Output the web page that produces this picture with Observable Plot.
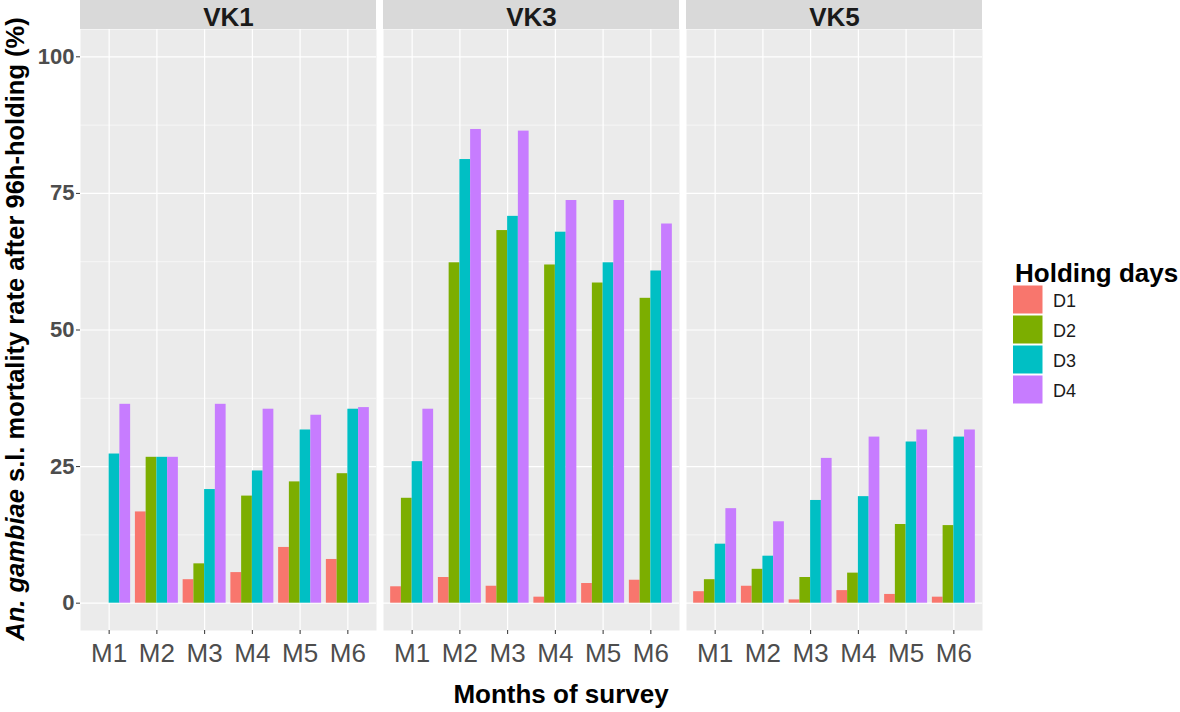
<!DOCTYPE html>
<html>
<head>
<meta charset="utf-8">
<script src="https://cdn.jsdelivr.net/npm/d3@7"></script>
<script src="https://cdn.jsdelivr.net/npm/@observablehq/plot@0.6"></script>
<style>
  body { margin: 0; background: #ffffff; }
  #chart { position: relative; width: 1180px; height: 712px; }
  svg { font-family: "Liberation Sans", Arial, sans-serif; }
</style>
</head>
<body>
<div id="chart"></div>
<script>
// ---- data ----
const sites = ["VK1", "VK3", "VK5"];
const months = ["M1", "M2", "M3", "M4", "M5", "M6"];
const days = ["D1", "D2", "D3", "D4"];
const dayColors = ["#F8766D", "#7CAE00", "#00BFC4", "#C77CFF"];
const yTicks = [0, 25, 50, 75, 100];
const yMinor = [12.5, 37.5, 62.5, 87.5];

// mortality (%) per holding day, months M1..M6
const vk1 = [
  [0, 16.7, 4.3, 5.6, 10.2, 8.0],      // D1
  [0, 26.7, 7.2, 19.6, 22.2, 23.7],    // D2
  [27.3, 26.7, 20.8, 24.2, 31.7, 35.5],// D3
  [36.4, 26.7, 36.4, 35.5, 34.4, 35.8] // D4
];
const vk3 = [
  [3.0, 4.7, 3.1, 1.1, 3.6, 4.2],
  [19.2, 62.3, 68.2, 61.9, 58.6, 55.8],
  [25.9, 81.2, 70.8, 67.9, 62.3, 60.8],
  [35.5, 86.7, 86.4, 73.7, 73.7, 69.4]
];
const vk5 = [
  [2.1, 3.1, 0.6, 2.3, 1.6, 1.1],
  [4.3, 6.2, 4.7, 5.5, 14.4, 14.2],
  [10.8, 8.6, 18.8, 19.5, 29.5, 30.4],
  [17.3, 14.9, 26.5, 30.4, 31.7, 31.7]
];
const siteValues = [vk1, vk3, vk5];

const rows = [];
sites.forEach((s, si) => siteValues[si].forEach((arr, di) => arr.forEach((v, mi) => {
  rows.push({ site: s, day: days[di], di, mi, month: months[mi], value: v });
})));

// ---- layout constants (ggplot-like) ----
const dodge = 0.9;
const barW = dodge / days.length;
const xDomain = [0.4, months.length + 0.6];
const yDomain = [-5, 105];
const monthPos = months.map((m, i) => i + 1);

const chart = Plot.plot({
  width: 1180,
  height: 712,
  marginLeft: 79,
  marginRight: 197,
  marginTop: 29,
  marginBottom: 82,
  style: { fontFamily: "'Liberation Sans', Arial, sans-serif", background: "#ffffff", overflow: "visible" },
  fx: { domain: sites, paddingInner: 0.023, paddingOuter: 0, axis: null, label: null },
  x: { domain: xDomain, axis: null },
  y: { domain: yDomain, axis: null },
  color: { domain: days, range: dayColors },
  marks: [
    Plot.frame({ fill: "#EBEBEB" }),
    Plot.rect(sites, { fx: d => d, x1: xDomain[0], x2: xDomain[1], y1: 105, y2: 110.31, fill: "#D9D9D9" }),
    Plot.text(sites, { fx: d => d, text: d => d, frameAnchor: "top", lineAnchor: "middle", dy: -12, fontSize: 26, fontWeight: "bold", fill: "#1A1A1A" }),
    Plot.ruleY(yMinor, { stroke: "#ffffff", strokeWidth: 0.6 }),
    Plot.ruleY(yTicks, { stroke: "#ffffff", strokeWidth: 1.2 }),
    Plot.ruleX(monthPos, { stroke: "#ffffff", strokeWidth: 1.2 }),
    Plot.rect(rows, {
      fx: "site",
      x1: d => d.mi + 1 - dodge / 2 + d.di * barW,
      x2: d => d.mi + 1 - dodge / 2 + (d.di + 1) * barW,
      y1: 0,
      y2: "value",
      fill: "day"
    }),
    Plot.axisY(yTicks, { tickSize: 4, tickPadding: 2, fontSize: 22, fontWeight: "bold", fill: "#4D4D4D", stroke: "#333333", label: null }),
    Plot.axisX(monthPos, { tickSize: 4, tickPadding: 9, fontSize: 26, tickFormat: i => months[i - 1], fill: "#4D4D4D", stroke: "#333333", label: null })
  ]
});

document.getElementById("chart").appendChild(chart);

const svg = d3.select(chart);

// y axis title
const yt = svg.append("text")
  .attr("transform", "translate(24,329) rotate(-90)")
  .attr("text-anchor", "middle")
  .attr("font-size", 25.5)
  .attr("font-weight", "bold")
  .attr("fill", "#000000");
yt.append("tspan").attr("font-style", "italic").text("An. gambiae");
yt.append("tspan").text(" s.l. mortality rate after 96h-holding (%)");

// x axis title
svg.append("text")
  .attr("x", 561).attr("y", 703)
  .attr("text-anchor", "middle")
  .attr("font-size", 26)
  .attr("font-weight", "bold")
  .attr("fill", "#000000")
  .text("Months of survey");

// legend
const color = chart.scale("color");
const lg = svg.append("g").attr("transform", "translate(1013,0)").attr("text-anchor", "start");
lg.append("text").attr("x", 2).attr("y", 282).attr("text-anchor", "start")
  .attr("font-size", 26).attr("font-weight", "bold").attr("fill", "#000000")
  .text("Holding days");
days.forEach((d, i) => {
  const top = 285.5 + i * 30;
  lg.append("rect").attr("x", 0).attr("y", top).attr("width", 29.5).attr("height", 28)
    .attr("fill", color.apply(d));
  lg.append("text").attr("x", 40).attr("y", top + 21).attr("text-anchor", "start")
    .attr("font-size", 18).attr("fill", "#1A1A1A").text(d);
});
</script>
</body>
</html>
